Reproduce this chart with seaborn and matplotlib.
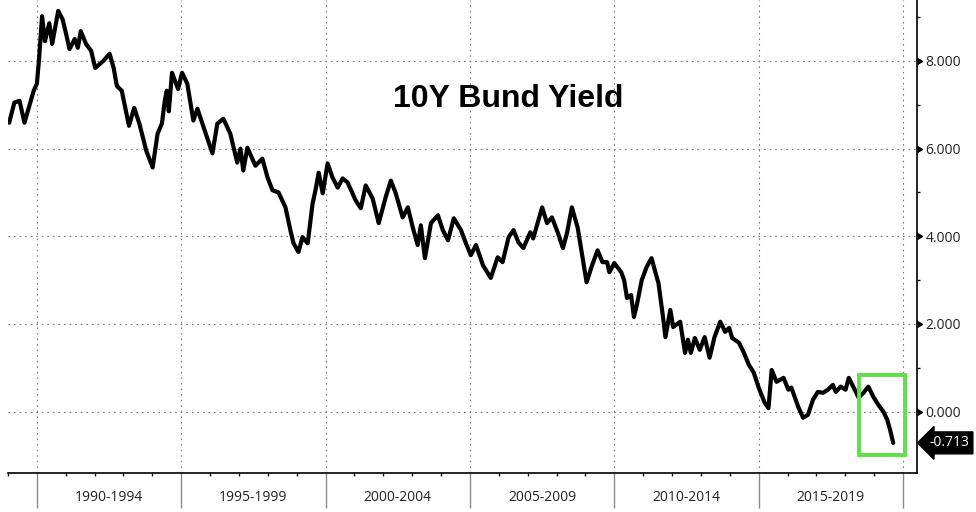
import matplotlib
matplotlib.use("Agg")
import matplotlib.pyplot as plt
import matplotlib.transforms as mtransforms
from matplotlib.patches import Rectangle
import pandas as pd
import seaborn as sns

# 10Y Bund yield (decimal year, yield in %)
years = [1989.04, 1989.22, 1989.40, 1989.57, 1989.89, 1990.00, 1990.07, 1990.18, 1990.28, 1990.43,
         1990.53, 1990.74, 1990.89, 1990.99, 1991.13, 1991.31, 1991.42, 1991.52, 1991.70, 1991.88,
         1992.02, 1992.30, 1992.52, 1992.66, 1992.77, 1992.94, 1993.19, 1993.37, 1993.55, 1993.79,
         1994.01, 1994.18, 1994.33, 1994.43, 1994.50, 1994.57, 1994.68, 1994.89, 1995.03, 1995.21,
         1995.42, 1995.56, 1995.76, 1996.08, 1996.25, 1996.46, 1996.70, 1996.94, 1997.05, 1997.15,
         1997.29, 1997.57, 1997.81, 1997.99, 1998.16, 1998.37, 1998.61, 1998.78, 1998.89, 1999.06,
         1999.20, 1999.38, 1999.55, 1999.65, 1999.76, 1999.90, 2000.07, 2000.24, 2000.42, 2000.59,
         2000.76, 2001.04, 2001.22, 2001.39, 2001.63, 2001.84, 2002.08, 2002.26, 2002.43, 2002.67,
         2002.85, 2003.02, 2003.19, 2003.30, 2003.44, 2003.65, 2003.89, 2004.06, 2004.24, 2004.44,
         2004.69, 2004.86, 2005.03, 2005.21, 2005.45, 2005.72, 2005.96, 2006.13, 2006.34, 2006.51,
         2006.68, 2006.85, 2007.09, 2007.19, 2007.50, 2007.67, 2007.84, 2008.05, 2008.22, 2008.36,
         2008.53, 2008.73, 2008.90, 2009.04, 2009.21, 2009.42, 2009.59, 2009.75, 2009.83, 2010.00,
         2010.24, 2010.34, 2010.44, 2010.58, 2010.68, 2010.78, 2010.95, 2011.12, 2011.29, 2011.43,
         2011.53, 2011.70, 2011.77, 2011.94, 2012.04, 2012.28, 2012.45, 2012.55, 2012.65, 2012.79,
         2012.96, 2013.13, 2013.30, 2013.47, 2013.67, 2013.84, 2013.98, 2014.08, 2014.32, 2014.49,
         2014.66, 2014.83, 2015.00, 2015.21, 2015.34, 2015.45, 2015.62, 2015.86, 2016.03, 2016.13,
         2016.37, 2016.54, 2016.71, 2016.88, 2017.05, 2017.23, 2017.40, 2017.57, 2017.67, 2017.84,
         2018.01, 2018.12, 2018.29, 2018.46, 2018.63, 2018.80, 2018.97, 2019.14, 2019.32, 2019.45,
         2019.55, 2019.66]
yields = [6.59, 7.05, 7.09, 6.59, 7.32, 7.48, 8.00, 9.02, 8.45, 8.86,
          8.39, 9.14, 8.95, 8.68, 8.27, 8.50, 8.30, 8.68, 8.39, 8.23,
          7.84, 8.00, 8.16, 7.84, 7.43, 7.32, 6.52, 6.93, 6.57, 5.95,
          5.57, 6.34, 6.57, 7.09, 7.32, 6.85, 7.73, 7.36, 7.73, 7.48,
          6.64, 6.91, 6.52, 5.89, 6.57, 6.68, 6.34, 5.68, 6.00, 5.50,
          6.02, 5.61, 5.77, 5.34, 5.05, 5.00, 4.66, 4.14, 3.84, 3.64,
          3.98, 3.84, 4.75, 5.05, 5.45, 4.98, 5.66, 5.34, 5.11, 5.32,
          5.23, 4.82, 4.64, 5.16, 4.86, 4.30, 4.89, 5.27, 4.98, 4.43,
          4.66, 4.20, 3.80, 4.25, 3.50, 4.30, 4.48, 4.14, 3.91, 4.41,
          4.14, 3.84, 3.57, 3.80, 3.34, 3.05, 3.52, 3.41, 3.98, 4.14,
          3.86, 3.73, 4.09, 3.95, 4.66, 4.30, 4.43, 4.07, 3.73, 4.07,
          4.66, 4.20, 3.52, 2.95, 3.30, 3.68, 3.41, 3.41, 3.18, 3.39,
          3.18, 3.00, 2.59, 2.66, 2.16, 2.43, 3.00, 3.30, 3.50, 3.16,
          2.93, 2.09, 1.70, 2.32, 1.93, 2.05, 1.34, 1.64, 1.34, 1.68,
          1.41, 1.70, 1.23, 1.70, 2.05, 1.82, 1.91, 1.68, 1.57, 1.34,
          1.07, 0.89, 0.55, 0.20, 0.08, 0.95, 0.68, 0.77, 0.50, 0.55,
          0.11, -0.14, -0.07, 0.27, 0.45, 0.43, 0.50, 0.61, 0.45, 0.57,
          0.50, 0.77, 0.55, 0.32, 0.43, 0.57, 0.34, 0.16, 0.00, -0.18,
          -0.41, -0.713]

period_labels = ["1990-1994", "1995-1999", "2000-2004", "2005-2009", "2010-2014", "2015-2019"]
period_edges = [1990, 1995, 2000, 2005, 2010, 2015, 2020]
y_ticks = [0, 2, 4, 6, 8]
last_value = -0.713

df = pd.DataFrame({"year": years, "yield": yields})

sns.set_style("white")
plt.rcParams["font.family"] = ["Open Sans", "DejaVu Sans"]

fig = plt.figure(figsize=(9.76, 5.12), dpi=100)
ax = fig.add_axes([8 / 976, 39 / 512, 909 / 976, 473 / 512])

sns.lineplot(data=df, x="year", y="yield", color="black", linewidth=3.0, ax=ax)
ax.lines[0].set_solid_joinstyle("round")

ax.set_xlim(1989.067, 2020.484)
ax.set_ylim(-1.40, 9.39)
ax.set_xlabel("")
ax.set_ylabel("")

# right-hand value axis
ax.yaxis.tick_right()
ax.set_yticks(y_ticks)
ax.set_yticklabels([f"{v:.3f}" for v in y_ticks])
ax.set_yticks([1, 3, 5, 7, 9], minor=True)
ax.tick_params(axis="y", which="major", right=True, length=4.5, width=1, pad=1.5,
               labelsize=10, labelcolor="#222222", color="black")
ax.tick_params(axis="y", which="minor", right=True, length=2.5, width=1, color="black")
for t in ax.yaxis.get_major_ticks():
    t.tick2line.set_marker(9)  # caret pointing right, base on the axis

# x axis: separators at every 5 years, small ticks every year
ax.set_xticks(period_edges)
ax.set_xticklabels([])
ax.set_xticks(range(1989, 2021), minor=True)
ax.tick_params(axis="x", which="major", bottom=True, length=25, width=1, color="#8a8a8a")
ax.tick_params(axis="x", which="minor", bottom=True, length=2.5, width=1, color="black")

trans = mtransforms.blended_transform_factory(ax.transData, ax.transAxes)
for lab, a, b in zip(period_labels, period_edges[:-1], period_edges[1:]):
    ax.text((a + b) / 2, -0.052, lab, transform=trans, ha="center", va="center",
            fontsize=10, color="#222222")

# dotted grid
ax.grid(True, which="major", axis="both", color="#7a7a7a", linestyle=(0, (1.5, 3.5)), linewidth=0.8)

for side in ["top", "left"]:
    ax.spines[side].set_visible(False)
for side in ["right", "bottom"]:
    ax.spines[side].set_color("black")
    ax.spines[side].set_linewidth(1.2)

# title inside the plot
ax.text(0.55, 0.79, "10Y Bund Yield", transform=ax.transAxes, ha="center", va="center",
        fontsize=23, fontweight="bold", color="black", family=["Liberation Sans", "DejaVu Sans"])

# highlight box around the latest move
ax.add_patch(Rectangle((2018.49, -1.0), 1.58, 1.84, fill=False, edgecolor="#5fe04a",
                       linewidth=2.8, zorder=5))

# last value tag
ytrans = mtransforms.blended_transform_factory(ax.transAxes, ax.transData)
ax.annotate(f"{last_value:.3f}", xy=(1.0, last_value), xycoords=ytrans,
            xytext=(9, 0), textcoords="offset points", ha="left", va="center",
            fontsize=10, color="white",
            bbox=dict(boxstyle="larrow,pad=0.25", fc="black", ec="black"),
            annotation_clip=False)

fig.savefig("out.png", dpi=100)
